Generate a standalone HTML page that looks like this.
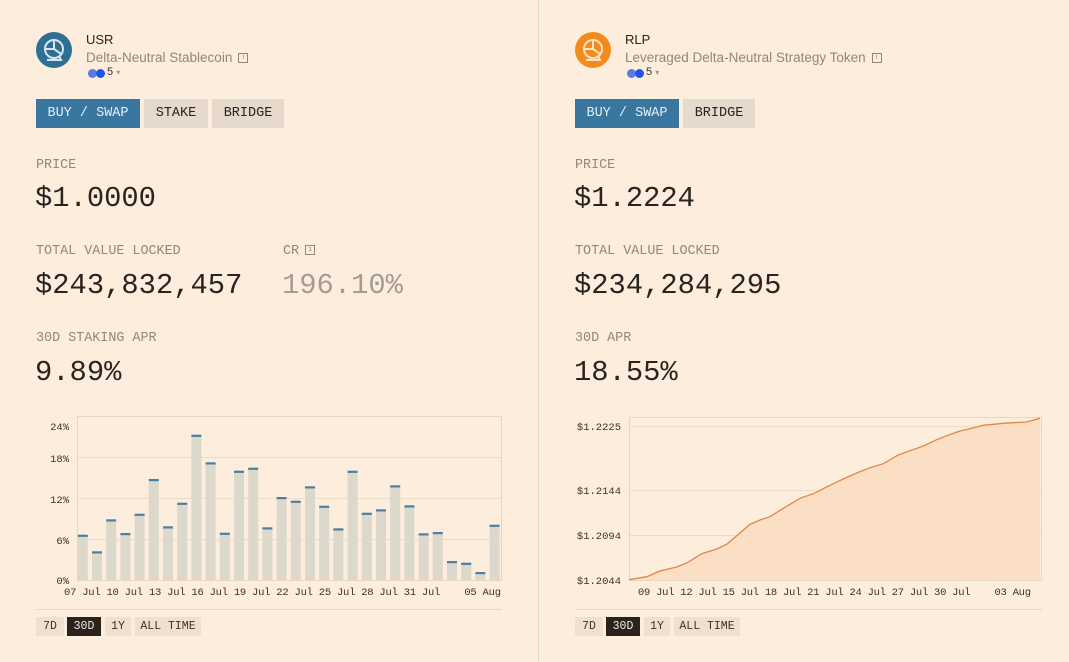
<!DOCTYPE html>
<html><head><meta charset="utf-8"><style>
*{margin:0;padding:0;box-sizing:border-box}
body{width:1069px;height:662px;background:#fdeddc;position:relative;overflow:hidden;font-family:"Liberation Mono",monospace;color:#2a2420}
.a{position:absolute;white-space:nowrap}
.lbl{font-size:13.4px;color:#8f8880;line-height:16px}
.big{font-size:28.8px;line-height:34px;color:#2a2420}
.sans{font-family:"Liberation Sans",sans-serif}
.btn{position:absolute;height:29px;line-height:29px;font-size:13.5px;text-align:center;background:#e5dacb;color:#2a2420}
.btn.on{background:#3a77a0;color:#e8eef3}
.sb{position:absolute;height:19px;line-height:19px;font-size:11.5px;text-align:center;background:#efe1d0;color:#3a332d}
.sb.on{background:#2a221d;color:#f5ece2}
.info{display:inline-block;width:10px;height:10px;border:1px solid #8f8880;font-size:7px;line-height:8px;text-align:center;vertical-align:middle;margin-left:6px}
</style></head><body>
<div class="a" style="left:538px;top:0;width:1px;height:662px;background:#e6d7c4"></div>

<!-- LEFT -->
<div class="a" style="left:36px;top:32px;width:36px;height:36px;border-radius:50%;background:#2f6f94"></div>
<svg class="a" style="left:36px;top:32px" width="36" height="36"><circle cx="18" cy="17" r="9" fill="none" stroke="#d8e6ef" stroke-width="2"/><path d="M18 8v9l7 5M9 17h9M11 28h14l-2-4" fill="none" stroke="#d8e6ef" stroke-width="2"/></svg>
<div class="a sans" style="left:86px;top:32px;font-size:13px;color:#2a2420">USR</div>
<div class="a sans" style="left:86px;top:50px;font-size:13.5px;color:#8f8880">Delta-Neutral Stablecoin<span class="info">i</span></div>
<div class="a" style="left:88px;top:69px;width:9px;height:9px;border-radius:50%;background:#5b7be0"></div>
<div class="a" style="left:96px;top:69px;width:9px;height:9px;border-radius:50%;background:#1f55e6"></div>
<div class="a sans" style="left:107px;top:66px;font-size:11px;color:#3a332d">5 <span style="color:#999;font-size:8px">▾</span></div>
<div class="btn on" style="left:36px;top:99px;width:104px">BUY / SWAP</div>
<div class="btn" style="left:144px;top:99px;width:64px">STAKE</div>
<div class="btn" style="left:212px;top:99px;width:72px">BRIDGE</div>
<div class="a lbl" style="left:36px;top:158px">PRICE</div>
<div class="a big" style="left:35px;top:182px">$1.0000</div>
<div class="a lbl" style="left:36px;top:244px">TOTAL VALUE LOCKED</div>
<div class="a big" style="left:35px;top:269px">$243,832,457</div>
<div class="a lbl" style="left:283px;top:244px">CR<span class="info">i</span></div>
<div class="a big" style="left:282px;top:269px;color:#a39c94">196.10%</div>
<div class="a lbl" style="left:36px;top:331px">30D STAKING APR</div>
<div class="a big" style="left:35px;top:356px">9.89%</div>

<svg class="a" style="left:0;top:0" width="538" height="662">
<g stroke="#ebdcc8" stroke-width="1"><line x1="77" y1="457.5" x2="501" y2="457.5"/><line x1="77" y1="498.5" x2="501" y2="498.5"/><line x1="77" y1="539.5" x2="501" y2="539.5"/></g>
<rect x="77.5" y="416.5" width="424" height="164" fill="none" stroke="#e6d6c2"/>
<g id="bars"></g>
<g font-family="Liberation Mono,monospace" font-size="10.5" fill="#3a332d" text-anchor="end">
<text x="69" y="430">24%</text><text x="69" y="462">18%</text><text x="69" y="503">12%</text><text x="69" y="544">6%</text><text x="69" y="584">0%</text></g>
<text x="64" y="595" textLength="437" lengthAdjust="spacing" font-family="Liberation Mono,monospace" font-size="10.5" fill="#3a332d" xml:space="preserve">07 Jul 10 Jul 13 Jul 16 Jul 19 Jul 22 Jul 25 Jul 28 Jul 31 Jul    05 Aug</text>
<line x1="36" y1="609.5" x2="502" y2="609.5" stroke="#e6d6c2"/>
</svg>
<div class="sb" style="left:36px;top:617px;width:28px">7D</div>
<div class="sb on" style="left:67px;top:617px;width:34px">30D</div>
<div class="sb" style="left:105px;top:617px;width:26px">1Y</div>
<div class="sb" style="left:135px;top:617px;width:66px">ALL TIME</div>

<!-- RIGHT -->
<div class="a" style="left:575px;top:32px;width:36px;height:36px;border-radius:50%;background:#f28a1e"></div>
<svg class="a" style="left:575px;top:32px" width="36" height="36"><circle cx="18" cy="17" r="9" fill="none" stroke="#fde3c4" stroke-width="2"/><path d="M18 8v9l7 5M9 17h9M11 28h14l-2-4" fill="none" stroke="#fde3c4" stroke-width="2"/></svg>
<div class="a sans" style="left:625px;top:32px;font-size:13px;color:#2a2420">RLP</div>
<div class="a sans" style="left:625px;top:50px;font-size:13.5px;color:#8f8880">Leveraged Delta-Neutral Strategy Token<span class="info">i</span></div>
<div class="a" style="left:627px;top:69px;width:9px;height:9px;border-radius:50%;background:#5b7be0"></div>
<div class="a" style="left:635px;top:69px;width:9px;height:9px;border-radius:50%;background:#1f55e6"></div>
<div class="a sans" style="left:646px;top:66px;font-size:11px;color:#3a332d">5 <span style="color:#999;font-size:8px">▾</span></div>
<div class="btn on" style="left:575px;top:99px;width:104px">BUY / SWAP</div>
<div class="btn" style="left:683px;top:99px;width:72px">BRIDGE</div>
<div class="a lbl" style="left:575px;top:158px">PRICE</div>
<div class="a big" style="left:574px;top:182px">$1.2224</div>
<div class="a lbl" style="left:575px;top:244px">TOTAL VALUE LOCKED</div>
<div class="a big" style="left:574px;top:269px">$234,284,295</div>
<div class="a lbl" style="left:575px;top:331px">30D APR</div>
<div class="a big" style="left:574px;top:356px">18.55%</div>

<svg class="a" style="left:0;top:0" width="1069" height="662">
<g stroke="#ebdcc8"><line x1="629" y1="426.5" x2="1041" y2="426.5"/><line x1="629" y1="490.5" x2="1041" y2="490.5"/><line x1="629" y1="535.5" x2="1041" y2="535.5"/></g>
<rect x="629.5" y="417.5" width="412" height="163" fill="none" stroke="#e6d6c2"/>
<path id="area" fill="#f9dcc0" opacity="0.85"/>
<path id="ln" fill="none" stroke="#e0864a" stroke-width="1.3"/>
<g font-family="Liberation Mono,monospace" font-size="10.5" fill="#3a332d" text-anchor="end">
<text x="621" y="430">$1.2225</text><text x="621" y="494">$1.2144</text><text x="621" y="539">$1.2094</text><text x="621" y="584">$1.2044</text></g>
<text x="638" y="595" textLength="393" lengthAdjust="spacing" font-family="Liberation Mono,monospace" font-size="10.5" fill="#3a332d" xml:space="preserve">09 Jul 12 Jul 15 Jul 18 Jul 21 Jul 24 Jul 27 Jul 30 Jul    03 Aug</text>
<line x1="575" y1="609.5" x2="1042" y2="609.5" stroke="#e6d6c2"/>
</svg>
<div class="sb" style="left:575px;top:617px;width:28px">7D</div>
<div class="sb on" style="left:606px;top:617px;width:34px">30D</div>
<div class="sb" style="left:644px;top:617px;width:26px">1Y</div>
<div class="sb" style="left:674px;top:617px;width:66px">ALL TIME</div>

<script>
var tops=[535.7,552.3,520.3,534,514.7,480,527.3,503.7,435.7,463.3,533.7,471.7,468.7,528.3,498,501.7,487.3,506.7,529.3,471.7,513.7,510.3,486.3,506.3,534.3,533,562,563.7,573,525.7];
var g=document.getElementById('bars'),h='';
tops.forEach(function(t,i){var x=77.8+i*14.2;h+='<rect x="'+x+'" y="'+t+'" width="10" height="'+(580-t)+'" fill="#ddd8cc"/><rect x="'+x+'" y="'+(t-1)+'" width="10" height="2.2" fill="#4a7fa3"/>';});
g.innerHTML=h;
var p=[[178,524],[230,515],[270,498],[320,486],[350,474],[395,446],[440,432],[470,418],[500,392],[540,358],[570,345],[600,335],[640,310],[690,280],[730,266],[780,241],[820,222],[860,204],[900,188],[940,176],[985,150],[1020,137],[1060,123],[1100,104],[1130,92],[1170,78],[1200,71],[1240,61],[1300,55],[1330,53],[1370,51],[1410,40]];
var d=p.map(function(q,i){return (i?'L':'M')+(570+q[0]/3).toFixed(1)+' '+(405+q[1]/3).toFixed(1)}).join(' ');
document.getElementById('ln').setAttribute('d',d);
document.getElementById('area').setAttribute('d',d+' L1040 580 L629.5 580 Z');
</script>
</body></html>
